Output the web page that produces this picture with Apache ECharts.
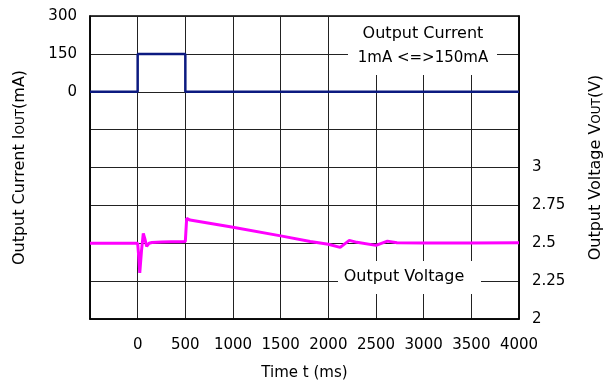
<!DOCTYPE html>
<html>
<head>
<meta charset="utf-8">
<script src="https://cdn.jsdelivr.net/npm/echarts@6/dist/echarts.min.js"></script>
<style>html,body{margin:0;padding:0;background:#fff;}#c{width:615px;height:390px;}</style>
</head>
<body>
<div id="c"></div>
<script>
// ---- data ----
const timeI = [-500, 0, 0, 500, 500, 4000];
const currI = [0, 0, 150, 150, 0, 0];

const timeV = [-500, -195, -190, -185, 0, 10, 22, 40, 59, 75, 94, 120, 150, 250, 350, 450, 500, 510, 514, 549, 970, 1515, 1810, 2000, 2124, 2220, 2300, 2500, 2620, 2720, 3000, 3500, 4000];
const voltV = [2.5, 2.5, 2.494, 2.5, 2.5, 2.42, 2.305, 2.45, 2.565, 2.53, 2.48, 2.5, 2.505, 2.508, 2.51, 2.51, 2.512, 2.52, 2.664, 2.653, 2.609, 2.547, 2.512, 2.493, 2.473, 2.519, 2.506, 2.486, 2.514, 2.503, 2.502, 2.502, 2.503];

const xTickLabels = [0, 500, 1000, 1500, 2000, 2500, 3000, 3500, 4000];
const leftTickLabels = [0, 150, 300];
const rightTickLabels = [2, 2.25, 2.5, 2.75, 3];

const FONT = 'DejaVu Sans';
const chart = echarts.init(document.getElementById('c'), null, {renderer: 'canvas'});

chart.setOption({
  animation: false,
  backgroundColor: '#fff',
  grid: {left: 90, right: 96, top: 16, bottom: 71, show: true, borderColor: '#000', borderWidth: 1.5, backgroundColor: 'transparent'},
  xAxis: {
    type: 'value', min: -500, max: 4000, interval: 500,
    name: 'Time t (ms)', nameLocation: 'middle', nameGap: 47,
    nameTextStyle: {fontFamily: FONT, fontSize: 15, color: '#000'},
    axisLine: {show: true, onZero: false, lineStyle: {color: '#000', width: 1.5}},
    axisTick: {show: false},
    splitLine: {show: true, lineStyle: {color: '#222', width: 1}},
    axisLabel: {fontFamily: FONT, fontSize: 15, color: '#000', margin: 19,
      formatter: v => xTickLabels.indexOf(v) >= 0 ? String(v) : ''}
  },
  yAxis: [{
    type: 'value', min: -900, max: 300, interval: 150, position: 'left',
    name: 'Output Current I{s|OUT}(mA)', nameLocation: 'middle', nameGap: 62,
    nameTextStyle: {fontFamily: FONT, fontSize: 16, color: '#000',
      rich: {s: {fontFamily: FONT, fontSize: 12, color: '#000', verticalAlign: 'bottom', padding: [0, 0, 1, 0]}}},
    axisLine: {show: true, onZero: false, lineStyle: {color: '#000', width: 1.5}},
    axisTick: {show: false},
    splitLine: {show: true, lineStyle: {color: '#222', width: 1}},
    axisLabel: {fontFamily: FONT, fontSize: 15, color: '#000', margin: 13,
      formatter: v => leftTickLabels.indexOf(v) >= 0 ? String(v) : ''}
  }, {
    type: 'value', min: 2, max: 4, interval: 0.25, position: 'right',
    name: 'Output Voltage V{s|OUT}(V)', nameLocation: 'middle', nameGap: 69, nameRotate: 90,
    nameTextStyle: {fontFamily: FONT, fontSize: 16, color: '#000',
      rich: {s: {fontFamily: FONT, fontSize: 12, color: '#000', verticalAlign: 'bottom', padding: [0, 0, 1, 0]}}},
    axisLine: {show: true, onZero: false, lineStyle: {color: '#000', width: 1.5}},
    axisTick: {show: false},
    splitLine: {show: false},
    axisLabel: {fontFamily: FONT, fontSize: 15, color: '#000', margin: 13,
      formatter: v => rightTickLabels.indexOf(+v.toFixed(2)) >= 0 ? String(+v.toFixed(2)) : ''}
  }],
  series: [{
    type: 'line', yAxisIndex: 0, showSymbol: false, z: 3,
    data: timeI.map((t, i) => [t, currI[i]]),
    lineStyle: {color: '#0c1a80', width: 2.5}
  }, {
    type: 'line', yAxisIndex: 1, showSymbol: false, z: 3,
    data: timeV.map((t, i) => [t, voltV[i]]),
    lineStyle: {color: '#ff00ff', width: 3}
  }],
  graphic: [
    {type: 'rect', shape: {x: 348, y: 17, width: 149, height: 58}, style: {fill: '#fff'}, z: 10},
    {type: 'text', x: 423, y: 34, style: {text: 'Output Current', font: '16px "DejaVu Sans"', fill: '#000', align: 'center', verticalAlign: 'middle'}, z: 11},
    {type: 'text', x: 423, y: 58, style: {text: '1mA <=>150mA', font: '15px "DejaVu Sans"', fill: '#000', align: 'center', verticalAlign: 'middle'}, z: 11},
    {type: 'rect', shape: {x: 338, y: 261, width: 143, height: 33}, style: {fill: '#fff'}, z: 10},
    {type: 'text', x: 404, y: 277, style: {text: 'Output Voltage', font: '16px "DejaVu Sans"', fill: '#000', align: 'center', verticalAlign: 'middle'}, z: 11}
  ]
});
</script>
</body>
</html>
